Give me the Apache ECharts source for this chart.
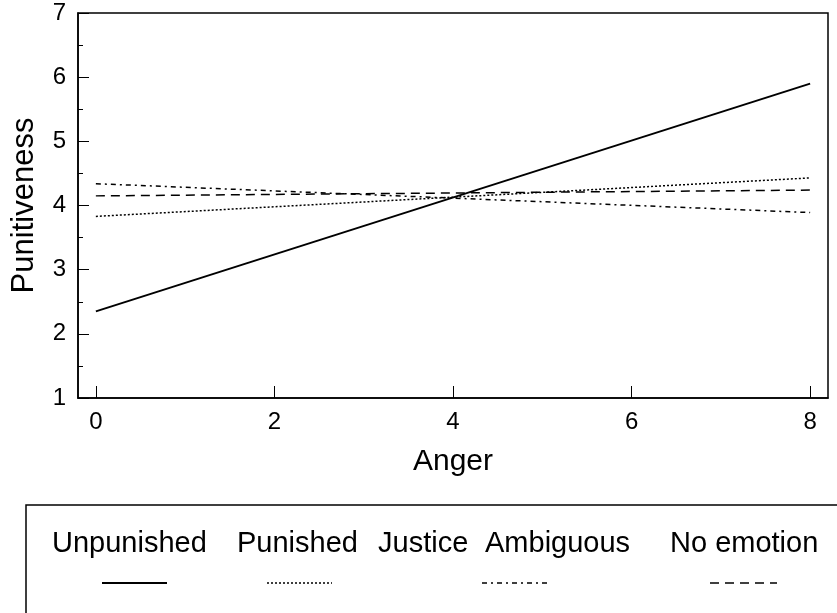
<!DOCTYPE html>
<html>
<head>
<meta charset="utf-8">
<script src="https://cdn.jsdelivr.net/npm/echarts@6/dist/echarts.min.js"></script>
<style>html,body{margin:0;padding:0;background:#fff;}#c{width:837px;height:613px;}</style>
</head>
<body>
<div id="c"></div>
<script>
// Data
const xTicks = [0, 2, 4, 6, 8];
const angerX = [0, 8];
const unpunished = [2.35, 5.90];
const punished = [3.83, 4.43];
const ambiguous = [4.34, 3.89];
const noEmotion = [4.15, 4.24];
const legendLabels = ['Unpunished', 'Punished', 'Justice', 'Ambiguous', 'No emotion'];

const FONT = '"Liberation Sans", Arial, Helvetica, sans-serif';
const chart = echarts.init(document.getElementById('c'), null, {renderer: 'canvas'});

function pts(vals) { return angerX.map((x, i) => [x, vals[i]]); }

const styles = {
  solid: {type: 'solid', width: 2},
  dotted: {type: [2, 2], width: 1.5},
  dashdot: {type: [5, 4, 2, 4], width: 1.5},
  dashed: {type: [9, 6], width: 1.5}
};

const seriesDefs = [
  {name: 'Unpunished', vals: unpunished, st: styles.solid},
  {name: 'Punished', vals: punished, st: styles.dotted},
  {name: 'Ambiguous', vals: ambiguous, st: styles.dashdot},
  {name: 'No emotion', vals: noEmotion, st: styles.dashed}
];

// legend layout (positions only)
const labelX = [52, 237, 378, 485, 670];
const samples = [
  {x1: 102, x2: 167, st: styles.solid},
  {x1: 267, x2: 332, st: styles.dotted},
  {x1: 482, x2: 548, st: styles.dashdot},
  {x1: 710, x2: 777, st: styles.dashed}
];

const graphic = [
  {type: 'rect', shape: {x: 26, y: 505, width: 900, height: 200},
   style: {fill: 'none', stroke: '#000', lineWidth: 1.5}, silent: true}
];
legendLabels.forEach((t, i) => {
  graphic.push({type: 'text', x: labelX[i], y: 544,
    style: {text: t, font: '29px ' + FONT, fill: '#000', verticalAlign: 'middle', align: 'left'}, silent: true});
});
samples.forEach(s => {
  graphic.push({type: 'line', shape: {x1: s.x1, y1: 583, x2: s.x2, y2: 583},
    style: {stroke: '#000', lineWidth: s.st.width, lineDash: s.st.type === 'solid' ? null : s.st.type}, silent: true});
});

chart.setOption({
  animation: false,
  backgroundColor: '#fff',
  grid: {left: 78, top: 13, width: 750, height: 385, show: true, borderColor: '#000', borderWidth: 1.5,
         containLabel: false, outerBoundsMode: 'none'},
  xAxis: {
    type: 'value', min: -0.2, max: 8.2,
    name: 'Anger', nameLocation: 'middle', nameGap: 49,
    nameTextStyle: {fontFamily: FONT, fontSize: 30, color: '#000'},
    axisLine: {show: true, onZero: false, lineStyle: {color: '#000', width: 1.5}},
    axisTick: {show: true, inside: true, length: 12, customValues: xTicks, lineStyle: {color: '#000', width: 1}},
    axisLabel: {customValues: xTicks, fontFamily: FONT, fontSize: 24, color: '#000', margin: 12},
    splitLine: {show: false}
  },
  yAxis: {
    type: 'value', min: 1, max: 7, interval: 1,
    name: 'Punitiveness', nameLocation: 'middle', nameGap: 38,
    nameTextStyle: {fontFamily: FONT, fontSize: 31, color: '#000'},
    axisLine: {show: true, onZero: false, lineStyle: {color: '#000', width: 1.5}},
    axisTick: {show: true, inside: true, length: 11, lineStyle: {color: '#000', width: 1}},
    minorTick: {show: true, splitNumber: 2, length: 5, lineStyle: {color: '#000', width: 1}},
    axisLabel: {fontFamily: FONT, fontSize: 24, color: '#000', margin: 12},
    splitLine: {show: false},
    minorSplitLine: {show: false}
  },
  graphic: graphic,
  series: seriesDefs.map(d => ({
    name: d.name, type: 'line', data: pts(d.vals), showSymbol: false, silent: true,
    lineStyle: {color: '#000', width: d.st.width, type: d.st.type}
  }))
});
</script>
</body>
</html>
